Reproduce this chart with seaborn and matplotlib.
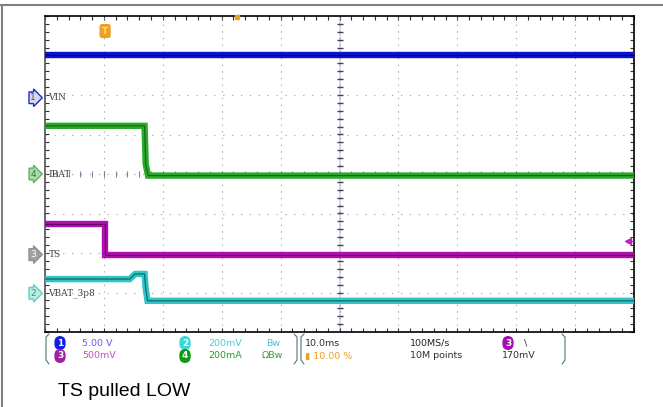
import numpy as np
import matplotlib
matplotlib.use("Agg")
import matplotlib.pyplot as plt
import matplotlib.transforms as mtransforms
from matplotlib.lines import Line2D
import seaborn as sns

# time in ms (10 ms/div, trigger at 10 %), amplitudes in screen divisions
vin_t = [-10, 90]
vin_div = [3.02, 3.02]

ibat_t = [-10, 6.9, 7.1, 7.5, 90]
ibat_div = [1.22, 1.22, 0.25, -0.04, -0.04]

ts_t = [-10, 0.2, 0.2, 90]
ts_div = [-1.26, -1.26, -2.04, -2.04]

vbat_t = [-10, 4.4, 5.3, 6.9, 7.1, 7.4, 90]
vbat_div = [-2.66, -2.66, -2.53, -2.53, -2.9, -3.21, -3.21]

# channel markers on the left edge: (number, label, level in div)
markers = [("1", "VIN", 1.93), ("4", "IBAT", 0.0), ("3", "TS", -2.04), ("2", "VBAT_3p8", -3.02)]
marker_colors = {"1": ("#d8d8e8", "#1a2ae0", "#555555"),
                 "4": ("#a8dca8", "#60b060", "#3a7a3a"),
                 "3": ("#a0a0a0", "#909090", "#ffffff"),
                 "2": ("#b8eee0", "#60d0c0", "#4a8a80")}

sns.set_style("white")
plt.rcParams["font.family"] = ["DejaVu Sans"]

fig = plt.figure(figsize=(6.63, 4.07), dpi=100)
ax = fig.add_axes([45 / 663, 1 - 332 / 407, 589 / 663, 316 / 407])

# grid
for gx in np.arange(0, 90, 10):
    ax.axvline(gx, color="#9a9aa8", lw=0.8, ls=(0, (1, 5)), zorder=1)
for gy in np.arange(-3, 4, 1):
    ax.axhline(gy, color="#9a9aa8", lw=0.8, ls=(0, (1, 7)), zorder=1)
ax.axvline(40, color="#d4d8f0", lw=1.4, zorder=0.5)
ax.plot(np.full(39, 40), np.arange(-3.8, 4, 0.2), ls="none", marker="_", ms=4, mew=1, color="#404050", zorder=1.5)
ax.plot(np.arange(-8, 90, 2), np.zeros(49), ls="none", marker="|", ms=4, mew=0.8, color="#8080a0", zorder=1.5)

# traces
traces = [(vin_t, vin_div, "#0a14d0", "#00006a"),
          (ibat_t, ibat_div, "#2aaa2a", "#186818"),
          (ts_t, ts_div, "#b010b0", "#6a006a"),
          (vbat_t, vbat_div, "#30c4c4", "#0f6a6a")]
for t, v, c, core in traces:
    sns.lineplot(x=t, y=v, ax=ax, color=c, linewidth=4.6, sort=False, estimator=None, zorder=3,
                 solid_capstyle="butt", solid_joinstyle="miter")
    sns.lineplot(x=t, y=v, ax=ax, color=core, linewidth=0.9, sort=False, estimator=None, zorder=4,
                 solid_capstyle="butt", solid_joinstyle="miter")

ax.set_xlim(-10, 90)
ax.set_ylim(-4, 4)
ax.set_xticks(np.arange(-10, 91, 2), minor=True)
ax.set_yticks(np.arange(-4, 4.01, 0.2), minor=True)
ax.set_xticks([])
ax.set_yticks([])
ax.tick_params(which="minor", direction="in", length=3, width=0.8, color="#303030",
               top=True, right=True, bottom=True, left=True,
               labelbottom=False, labelleft=False)
for s in ax.spines.values():
    s.set_color("black")
    s.set_linewidth(1.2)
ax.spines["left"].set_color("#505050")

# channel markers and labels
blend = mtransforms.blended_transform_factory(ax.transAxes, ax.transData)
for num, label, lvl in markers:
    fc, ec, tc = marker_colors[num]
    ax.text(-0.02, lvl, num, transform=blend, ha="center", va="center", fontsize=6.5, color=tc,
            bbox=dict(boxstyle="rarrow,pad=0.15", fc=fc, ec=ec, lw=1), clip_on=False, zorder=6)
    ax.text(0.006, lvl, label, transform=blend, ha="left", va="center", fontsize=6.5,
            family="DejaVu Serif", color="#404040", zorder=6)

# trigger markers
ax.text(0.2, 3.62, "T", ha="center", va="center", fontsize=6.5, color="#ffe0a0", fontweight="bold",
        bbox=dict(boxstyle="round,pad=0.2", fc="#f0a020", ec="#f0a020"), zorder=6)
ax.plot([22.6], [3.98], marker="s", ms=3, color="#f0a020", clip_on=False, zorder=6)
ax.plot([88.9], [-1.70], marker="<", ms=5, color="#c020c0", zorder=6)
ax.plot([88.9, 89.9], [-1.70, -1.70], color="#c020c0", lw=1, zorder=6)

# outer frame
fig.add_artist(Line2D([0, 1], [1 - 5 / 407] * 2, color="#808080", lw=1.5))
fig.add_artist(Line2D([1.5 / 663] * 2, [0, 1 - 5 / 407], color="#808080", lw=1.5))


def px(x, y):
    return x / 663, 1 - y / 407


def badge(x, y, s, color):
    fig.text(*px(x, y), s, ha="center", va="center", fontsize=6.5, color="white", fontweight="bold",
             bbox=dict(boxstyle="round,pad=0.2,rounding_size=0.6", fc=color, ec=color))


def scope_text(x, y, s, color):
    fig.text(*px(x, y), s, ha="left", va="center", fontsize=6.8, color=color)


# brackets of the readout panel
for x0, x1 in [(46, 297), (301, 565)]:
    for xb, d in [(x0, 1), (x1, -1)]:
        fig.add_artist(Line2D([px(xb + 3 * d, 0)[0], px(xb, 0)[0], px(xb, 0)[0], px(xb + 3 * d, 0)[0]],
                              [px(0, 334)[1], px(0, 337)[1], px(0, 360)[1], px(0, 364)[1]],
                              color="#507878", lw=0.8))

badge(60, 343, "1", "#1020e0")
scope_text(82, 343, "5.00 V", "#6a5ae0")
badge(60, 356, "3", "#a020a0")
scope_text(82, 356, "500mV", "#c050c0")
badge(185, 343, "2", "#3cd8d8")
scope_text(208, 343, "200mV", "#40d0d8")
scope_text(266, 343, "Bw", "#40c8d0")
badge(185, 356, "4", "#109a10")
scope_text(208, 356, "200mA", "#20a020")
scope_text(262, 356, "ΩBw", "#30a030")

scope_text(305, 343, "10.0ms", "#303030")
scope_text(305, 356, "▮ 10.00 %", "#f0a020")
scope_text(410, 343, "100MS/s", "#202020")
scope_text(410, 356, "10M points", "#303030")
badge(508, 343, "3", "#a010b0")
scope_text(524, 343, "\\", "#303030")
scope_text(502, 356, "170mV", "#303030")

fig.text(*px(58, 391), "TS pulled LOW", ha="left", va="center", fontsize=14,
         family=["Liberation Sans", "DejaVu Sans"], color="black")

fig.savefig("out.png", dpi=100)
